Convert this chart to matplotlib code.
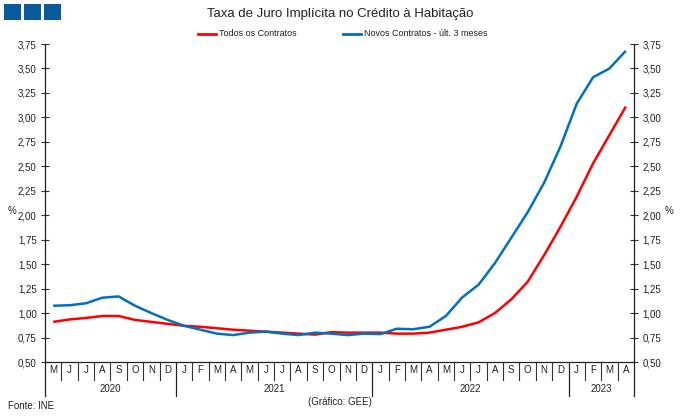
import matplotlib.pyplot as plt
import matplotlib.transforms as mtransforms
import matplotlib.patches as mpatches
import numpy as np

plt.rcParams['font.family'] = ['Liberation Sans', 'DejaVu Sans']

# dados (May 2020 .. Apr 2023)
months = ["M", "J", "J", "A", "S", "O", "N", "D",
          "J", "F", "M", "A", "M", "J", "J", "A", "S", "O", "N", "D",
          "J", "F", "M", "A", "M", "J", "J", "A", "S", "O", "N", "D",
          "J", "F", "M", "A"]
years = ["2020", "2021", "2022", "2023"]
year_start = [0, 8, 20, 32]
todos = [0.91, 0.935, 0.95, 0.97, 0.97, 0.93, 0.91, 0.89,
         0.87, 0.86, 0.845, 0.83, 0.82, 0.81, 0.80, 0.79, 0.78, 0.805, 0.80, 0.80,
         0.80, 0.79, 0.79, 0.80, 0.83, 0.86, 0.905, 1.00, 1.14, 1.32, 1.59, 1.88,
         2.19, 2.53, 2.82, 3.11]
novos = [1.075, 1.08, 1.10, 1.157, 1.17, 1.075, 1.00, 0.93,
         0.87, 0.83, 0.79, 0.775, 0.80, 0.81, 0.79, 0.775, 0.80, 0.79, 0.775, 0.79,
         0.785, 0.84, 0.835, 0.86, 0.97, 1.16, 1.29, 1.51, 1.77, 2.03, 2.33, 2.70,
         3.14, 3.41, 3.50, 3.68]
yticks = np.arange(0.5, 3.76, 0.25)

W, H = 680, 417
fig = plt.figure(figsize=(6.8, 4.17), dpi=100)
ax = fig.add_axes([45 / W, 1 - 362 / H, (634 - 45) / W, (362 - 44) / H])

txt = '#222222'
red = '#ff0000'
blue = '#0070c0'

x = np.arange(len(months))
ax.plot(x, todos, color=red, lw=1.8, solid_capstyle='butt')
ax.plot(x, novos, color=blue, lw=1.8, solid_capstyle='butt')

ax.set_xlim(-0.5, len(months) - 0.5)
ax.set_ylim(0.5, 3.75)
ax.set_yticks(yticks)
ax.set_yticklabels([f"{v:.2f}".replace('.', ',') for v in yticks])
ax.yaxis.set_ticks_position('both')
ax.tick_params(axis='y', direction='inout', length=6, width=0.8, color='#333333',
               labelsize=7, labelcolor=txt, labelright=True, pad=3)
ax.set_xticks([])
for s in ['top']:
    ax.spines[s].set_visible(False)
for s in ['left', 'right', 'bottom']:
    ax.spines[s].set_color('#222222')
    ax.spines[s].set_linewidth(0.9)

# category axis
tr = mtransforms.blended_transform_factory(ax.transData, ax.transAxes)
dy = 1 / (362 - 44)  # one pixel in axes units
for i, m in enumerate(months):
    ax.text(i, -8 * dy, m, transform=tr, ha='center', va='center',
            fontsize=7, color=txt)
    if i > 0 and i not in year_start:
        ax.plot([i - 0.5, i - 0.5], [0, -18 * dy], transform=tr, color='#333333',
                lw=0.8, clip_on=False)
bounds = year_start + [len(months)]
for k, yr in enumerate(years):
    b = bounds[k] - 0.5
    ax.plot([b, b], [0, -34 * dy], transform=tr, color='#222222', lw=0.9,
            clip_on=False)
    mid = (bounds[k] + bounds[k + 1] - 1) / 2
    ax.text(mid, -27 * dy, yr, transform=tr, ha='center', va='center',
            fontsize=7, color=txt)
ax.plot([len(months) - 0.5] * 2, [0, -34 * dy], transform=tr, color='#222222',
        lw=0.9, clip_on=False)

# title, legend, notes
fig.text(340 / W, 1 - 14 / H, "Taxa de Juro Implícita no Crédito à Habitação",
         ha='center', va='center', fontsize=9.5, color=txt)
fig.add_artist(plt.Line2D([198 / W, 216 / W], [1 - 34 / H] * 2, color=red, lw=2))
fig.text(219 / W, 1 - 34 / H, "Todos os Contratos", ha='left', va='center',
         fontsize=6.5, color=txt)
fig.add_artist(plt.Line2D([343 / W, 361 / W], [1 - 34 / H] * 2, color=blue, lw=2))
fig.text(364 / W, 1 - 34 / H, "Novos Contratos - últ. 3 meses", ha='left',
         va='center', fontsize=6.5, color=txt)
fig.text(12 / W, 1 - 211 / H, "%", ha='center', va='center', fontsize=7, color=txt)
fig.text(669 / W, 1 - 211 / H, "%", ha='center', va='center', fontsize=7, color=txt)
fig.text(8 / W, 1 - 406 / H, "Fonte: INE", ha='left', va='center', fontsize=7,
         color=txt)
fig.text(340 / W, 1 - 402 / H, "(Gráfico: GEE)", ha='center', va='center',
         fontsize=7, color=txt)

for x0 in [4, 24, 44]:
    fig.add_artist(mpatches.Rectangle((x0 / W, 1 - 20 / H), 17 / W, 16 / H,
                                      transform=fig.transFigure,
                                      facecolor='#0a5aa0', edgecolor='none'))

fig.savefig('out.png', dpi=100)
